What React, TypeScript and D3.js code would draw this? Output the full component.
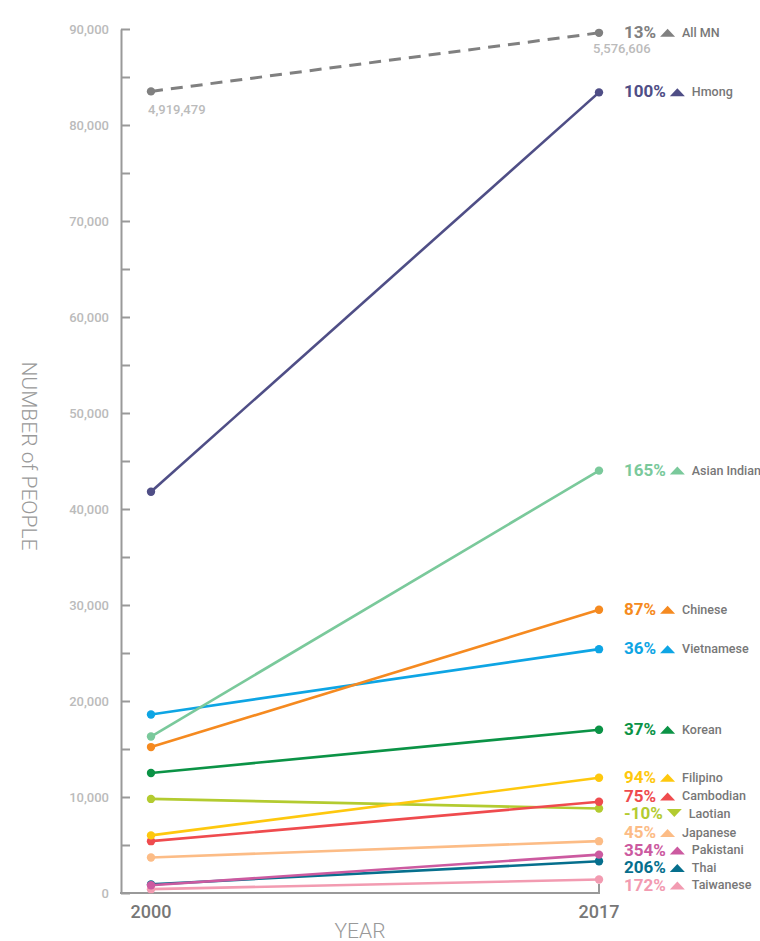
import React, { useEffect, useRef } from 'react';
import * as d3 from 'd3';

// Data (positions along the y scale)
const groups = ['All MN', 'Hmong', 'Asian Indian', 'Chinese', 'Vietnamese', 'Korean', 'Filipino', 'Cambodian', 'Laotian', 'Japanese', 'Pakistani', 'Thai', 'Taiwanese'];
const values2000 = [83500, 41800, 16300, 15200, 18600, 12500, 6000, 5400, 9800, 3700, 800, 900, 400];
const values2017 = [89600, 83400, 44000, 29500, 25400, 17000, 12000, 9500, 8800, 5400, 4000, 3300, 1400];
const growth = ['13%', '100%', '165%', '87%', '36%', '37%', '94%', '75%', '-10%', '45%', '354%', '206%', '172%'];
const colors = ['#808080', '#4f4e86', '#7ac99b', '#f58a20', '#0ea5e4', '#0b9346', '#fec80e', '#ef4b4e', '#b3cb30', '#fcbc86', '#cc5aa0', '#066f8d', '#f29bb1'];
const years = [2000, 2017];
const totalLabels = ['4,919,479', '5,576,606'];

const W = 760;
const H = 941;
const FONT = 'Roboto, sans-serif';

const App: React.FC = () => {
  const svgRef = useRef<SVGSVGElement>(null);

  useEffect(() => {
    if (!svgRef.current) return;
    const svg = d3.select(svgRef.current);
    svg.selectAll('*').remove();

    const axisX = 121;
    const x = d3.scaleLinear().domain([2000, 2017]).range([151, 599]);
    const y = d3.scaleLinear().domain([0, 90000]).range([893, 29]);

    // y axis, ticks pointing inward
    const yAxis = d3.axisLeft(y)
      .tickValues(d3.range(0, 90001, 5000))
      .tickSizeInner(-9)
      .tickSizeOuter(0)
      .tickPadding(12)
      .tickFormat(d => (+d % 10000 === 0 ? d3.format(',')(+d) : ''));

    const ga = svg.append('g')
      .attr('transform', `translate(${axisX},0)`)
      .call(yAxis);
    ga.select('.domain').attr('stroke', '#999').attr('stroke-width', 2);
    ga.selectAll('.tick line').attr('stroke', '#999').attr('stroke-width', 2);
    ga.selectAll('.tick text')
      .attr('fill', '#bbb')
      .style('font-family', FONT)
      .style('font-size', '13px')
      .style('font-weight', 500);

    // bottom axis
    svg.append('path')
      .attr('d', `M${axisX - 1},${y(0)}H${x(2017)}V${y(0) - 9}`)
      .attr('fill', 'none')
      .attr('stroke', '#999')
      .attr('stroke-width', 2);

    svg.selectAll('.year')
      .data(years)
      .enter().append('text')
      .attr('x', d => x(d))
      .attr('y', 918)
      .attr('text-anchor', 'middle')
      .style('font-family', FONT)
      .style('font-size', '18px')
      .style('font-weight', 500)
      .attr('fill', '#777')
      .text(d => d);

    svg.append('text')
      .attr('x', 360)
      .attr('y', 938)
      .attr('text-anchor', 'middle')
      .style('font-family', FONT)
      .style('font-size', '21px')
      .style('font-weight', 300)
      .attr('fill', '#999')
      .text('YEAR');

    svg.append('text')
      .attr('transform', `translate(22,456) rotate(90)`)
      .attr('text-anchor', 'middle')
      .style('font-family', FONT)
      .style('font-size', '21px')
      .style('font-weight', 300)
      .attr('fill', '#999')
      .text('NUMBER of PEOPLE');

    const series = groups.map((name, i) => ({
      name,
      v: [values2000[i], values2017[i]],
      growth: growth[i],
      color: colors[i],
      dashed: i === 0,
    }));

    // lines, drawn bottom series last so the bigger ones stay on top
    const lines = svg.append('g');
    [...series].reverse().forEach(s => {
      lines.append('line')
        .attr('x1', x(2000)).attr('y1', y(s.v[0]))
        .attr('x2', x(2017)).attr('y2', y(s.v[1]))
        .attr('stroke', s.color)
        .attr('stroke-width', s.dashed ? 3 : 2.6)
        .attr('stroke-dasharray', s.dashed ? '12,8' : null);
      years.forEach((yr, j) => {
        lines.append('circle')
          .attr('cx', x(yr))
          .attr('cy', y(s.v[j]))
          .attr('r', 4.2)
          .attr('fill', s.color);
      });
    });

    // totals for All MN
    svg.append('text')
      .attr('x', x(2000) - 3).attr('y', y(values2000[0]) + 23)
      .style('font-family', FONT).style('font-size', '13px').style('font-weight', 500)
      .attr('fill', '#bbb')
      .text(totalLabels[0]);
    svg.append('text')
      .attr('x', x(2017) - 6).attr('y', y(values2017[0]) + 20)
      .style('font-family', FONT).style('font-size', '13px').style('font-weight', 500)
      .attr('fill', '#bbb')
      .text(totalLabels[1]);

    // label placement: relax overlapping labels apart
    const gap = 17.5;
    const pos = series.map(s => y(s.v[1]) - 1);
    for (let iter = 0; iter < 300; iter++) {
      for (let i = 0; i < pos.length - 1; i++) {
        const d = pos[i + 1] - pos[i];
        if (d < gap) {
          const push = (gap - d) / 2;
          pos[i] -= push;
          pos[i + 1] += push;
        }
      }
    }

    const labelX = 624;
    series.forEach((s, i) => {
      const g = svg.append('g').attr('transform', `translate(${labelX},${pos[i]})`);
      const pct = g.append('text')
        .attr('dy', '0.36em')
        .style('font-family', FONT)
        .style('font-size', '17px')
        .style('font-weight', 700)
        .attr('fill', s.color)
        .text(s.growth);
      const w = (pct.node() as SVGTextElement).getComputedTextLength();
      const tx = w + 4;
      const up = !s.growth.startsWith('-');
      g.append('path')
        .attr('d', up
          ? `M${tx},5H${tx + 15}L${tx + 7.5},-3Z`
          : `M${tx},-4H${tx + 15}L${tx + 7.5},4Z`)
        .attr('fill', s.color);
      g.append('text')
        .attr('x', tx + 22)
        .attr('dy', '0.4em')
        .style('font-family', FONT)
        .style('font-size', '12.5px')
        .style('font-weight', 500)
        .attr('fill', '#777')
        .text(s.name);
    });
  }, []);

  return (
    <svg
      ref={svgRef}
      width={W}
      height={H}
      style={{ position: 'absolute', left: 0, top: 0, background: '#fff' }}
    />
  );
};

export default App;
